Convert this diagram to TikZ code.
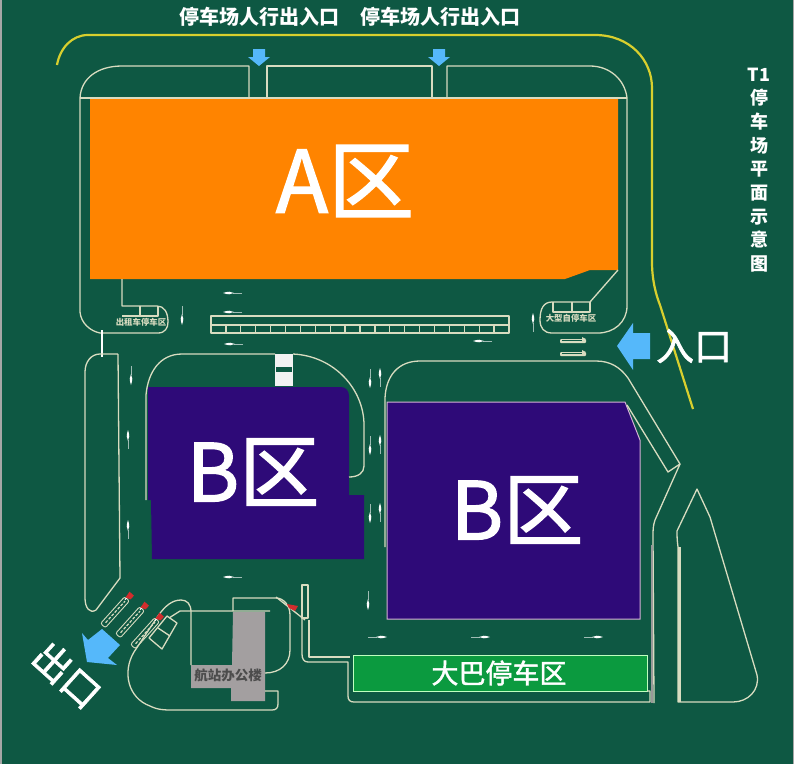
\documentclass[tikz,border=0pt]{standalone}
\usepackage{fontspec}
\setmainfont{Noto Sans CJK SC}
\newfontfamily\zonefont[FakeBold=1.6]{Noto Sans CJK SC}
\usetikzlibrary{arrows.meta,calc}
\definecolor{groundgreen}{HTML}{0E5843}
\definecolor{zoneorange}{HTML}{FF8400}
\definecolor{zonepurple}{HTML}{2E0A78}
\definecolor{busgreen}{HTML}{0B9A3F}
\definecolor{roadgold}{HTML}{D8CF2E}
\definecolor{roadcream}{HTML}{D8DCC0}
\definecolor{signblue}{HTML}{55B8FA}
\definecolor{officegray}{HTML}{A39FA0}
\tikzset{
  roadline/.style={draw=roadcream, line width=1.3pt, line join=round},
  yellowroad/.style={draw=roadgold, line width=2.2pt},
  zonelabel/.style={text=white, inner sep=0pt, font=\zonefont\fontsize{80}{80}\selectfont},
  toplabel/.style={text=white, inner sep=0pt, font=\bfseries\fontsize{20}{22}\selectfont},
  signlabel/.style={text=white, inner sep=0pt, font=\zonefont\fontsize{38}{40}\selectfont},
  spotlabel/.style={text=roadcream, inner sep=0pt, font=\bfseries\fontsize{8.4}{9}\selectfont},
  bluearrow/.style={fill=signblue, draw=none},
  roadarrow/.pic={
    \draw[white!60!groundgreen, line width=0.5pt] (-9,0) -- (0,0);
    \fill[white] (-1,0) .. controls (2,1.7) and (5,1.7) .. (10,0) .. controls (5,-1.7) and (2,-1.7) .. (-1,0);
  },
  parkedbus/.pic={
    \draw[roadcream, line width=0.9pt, rounded corners=2pt] (-21,-3.2) rectangle (15,3.2);
    \draw[roadcream, line width=1.2pt, dash pattern=on 3pt off 1.5pt] (-17,0) -- (12,0);
    \draw[white, line width=1.1pt] (13,-1) -- (19,-1);
    \fill[red!65!gray] (15,-2) -- (22,-3) -- (22,3) -- (17,3) -- cycle;
  },
  lanebar/.pic={
    \fill[roadcream, rounded corners=1pt] (-13,-2) rectangle (13,2);
    \draw[groundgreen, line width=0.5pt] (-11,-0.6) -- (9,-0.6);
    \fill[roadcream] (9,-4) -- (13,-2) -- (9,-2) -- cycle;
  },
}
\begin{document}
\begin{tikzpicture}[x=1pt,y=-1pt]
  \useasboundingbox (0,0) rectangle (794,764);
  \fill[groundgreen] (0,0) rectangle (794,764);
  \fill[gray!70] (0,0) rectangle (1.5,764);
  \fill[gray!70] (792.5,0) rectangle (794,764);

  % outer road
  \draw[yellowroad] (57,65) .. controls (60,48) and (72,35) .. (88,35) -- (595,35)
    .. controls (630,35) and (652,60) .. (652,88) -- (652,262)
    .. controls (652,280) and (656,295) .. (660,305) -- (693,409);

  % zones
  \fill[zoneorange] (90,99) -- (618,99) -- (618,270) -- (590,270) -- (565,279) -- (90,279) -- cycle;
  \fill[zonepurple] (148,387) -- (341,387) .. controls (346,387) and (349,391) .. (349,396)
    -- (349,495) -- (364,495) -- (364,559) -- (152,559) -- (151,500) -- (148,500) -- cycle;
  \draw[draw=black!10!violet!30!white, line width=1pt, fill=zonepurple] (387,402) -- (625,402) -- (640,440) -- (640,619) -- (387,619) -- cycle;
  \draw[draw=green!25!white, line width=1pt, fill=busgreen] (353,655) rectangle (647,691);
  \fill[officegray] (233,612) -- (265,612) -- (265,701) -- (231,701) -- (231,688) -- (191,688) -- (191,665) -- (232,665) -- cycle;

  % upper car park outline
  \draw[roadline] (80,98) .. controls (81,78) and (98,66) .. (122,66) -- (249,66) -- (249,98);
  \draw[roadline] (267,98) -- (267,66) -- (432,66) -- (432,98);
  \draw[roadline] (447,98) -- (447,66) -- (590,66) .. controls (610,66) and (625,80) .. (627,98);
  \draw[roadline] (80,98) -- (627,98);
  \draw[roadline] (80,98) -- (80,312) .. controls (81,323) and (90,331) .. (100,333) -- (158,333)
    .. controls (165,333) and (168,328) .. (168,322) .. controls (168,312) and (164,306) .. (157,306) -- (122,306) -- (122,279);
  \draw[roadline] (122,316) -- (158,316) -- (158,306);
  \draw[roadline] (140,306) -- (140,316);
  \draw[roadline] (627,98) -- (627,306) .. controls (627,322) and (614,333) .. (598,333) -- (552,333)
    .. controls (544,333) and (540,328) .. (540,320) .. controls (540,308) and (544,302) .. (552,302) -- (590,302) -- (618,270);
  \draw[roadline] (553,302) -- (553,312) -- (590,312) -- (590,302);
  \draw[roadline] (572,302) -- (572,312);
  \draw[white, line width=2.5pt] (102,330) -- (102,357);

  % central parking strip
  \draw[roadline] (211,316) rectangle (509,333);
  \draw[roadline] (211,325) -- (509,325);
  \foreach \i in {1,...,19} {
    \draw[roadline] ({211+\i*14.9},325) -- ({211+\i*14.9},333);
  }

  % islands and road edges
  \draw[roadline] (118,354) -- (100,354) .. controls (91,354) and (85,362) .. (85,372) -- (85,598)
    .. controls (85,608) and (90,614) .. (96,610) -- (120,578) -- (118,354);
  \draw[roadline] (146,500) -- (146,395) .. controls (148,372) and (160,354) .. (182,354) -- (275,354);
  \draw[roadline] (293,354) .. controls (335,356) and (364,390) .. (364,425) -- (364,466)
    .. controls (364,473) and (358,477) .. (349,477);
  \fill[white!90!gray] (275,354) rectangle (293,386);
  \fill[groundgreen] (276,367) rectangle (292,372);
  \draw[roadline] (385,547) -- (385,398) .. controls (386,376) and (398,361) .. (420,361) -- (596,361)
    .. controls (610,361) and (620,367) .. (628,378) -- (680,464) -- (668,472) -- (627,405);
  \draw[roadline] (680,464) -- (655,520) .. controls (653,526) and (653,530) .. (653,536) -- (654,703);
  \fill[gray!80] (650.5,545) rectangle (653,703);
  \draw[roadline] (697,489) -- (677,531) .. controls (677,535) and (677,540) .. (678,547) -- (678,702) -- (733,702)
    .. controls (748,702) and (760,690) .. (757,675) -- (710,517) -- cycle;
  \draw[roadcream, line width=3pt] (679,547) -- (679,702);

  % bus lane and office block roads
  \draw[roadline] (302,585) rectangle (308,618);
  \draw[roadline] (309,620) -- (309,657) -- (350,657);
  \draw[roadline] (302,617) -- (302,654) .. controls (302,659) and (304,662) .. (308,662) -- (348,662) -- (348,696)
    .. controls (348,700) and (350,702) .. (354,702) -- (650,702) -- (650,691) -- (647,691);
  \draw[roadline] (233,611) -- (233,598) -- (276,598) .. controls (284,598) and (290,606) .. (290,615) -- (290,650)
    .. controls (290,664) and (280,673) .. (265,673);
  \draw[roadline] (276,597) -- (305,620);
  \fill[red!65!gray] (287,604) -- (298,606) -- (295,611) -- (289,608) -- cycle;
  \draw[roadline] (191,665) -- (191,612) .. controls (191,604) and (187,600) .. (181,600)
    .. controls (172,600) and (165,606) .. (158,616) -- (134,652)
    .. controls (122,672) and (128,698) .. (150,706) .. controls (158,710) and (165,710) .. (172,710) -- (272,710)
    .. controls (276,710) and (278,708) .. (278,704) -- (278,691) -- (265,691);
  \draw[roadline] (169,618) -- (180,611) -- (270,611);
  \draw[roadline] (167,616) -- (177,623) -- (162,649) -- (149,638) -- cycle;
  \draw[roadline] (158,628) -- (170,636);

  % parked buses
  \pic[rotate=48] at (117,610) {parkedbus};
  \pic[rotate=48] at (132,620) {parkedbus};
  \pic[rotate=48] at (147,631) {parkedbus};
  \pic at (573,341) {lanebar};
  \pic at (573,354) {lanebar};

  % driving direction marks
  \foreach \px/\py/\ang in {233/293/180, 233/312/180, 234/344/180, 233/577/180, 483/341/180,
      377/637/0, 480/637/0, 593/637/0,
      182/315/-90, 131/375/-90, 128/440/90, 128/530/90,
      370/378/-90, 380/378/90, 370/445/-90, 380/445/90, 370/513/-90, 380/513/90,
      368/600/-90, 533/323/90} {
    \pic[rotate=\ang] at (\px,\py) {roadarrow};
  }

  % blue signs
  \fill[bluearrow] (253,49) -- (265,49) -- (265,57) -- (270,57) -- (259,66) -- (248,57) -- (253,57) -- cycle;
  \fill[bluearrow] (433,49) -- (445,49) -- (445,57) -- (450,57) -- (439,66) -- (428,57) -- (433,57) -- cycle;
  \fill[bluearrow] (617,346) -- (633,323) -- (633,333) -- (650,333) -- (650,359) -- (633,359) -- (633,370) -- cycle;
  \fill[bluearrow] (87,662) -- (82,633) -- (88,640) -- (102,629) -- (120,645) -- (108,658) -- (117,665) -- cycle;

  % labels
  \node[toplabel] (walkleft) at (259,17) {停车场人行出入口};
  \node[toplabel] (walkright) at (440,17) {停车场人行出入口};
  \node[text=white, inner sep=0pt, align=center, font=\bfseries\fontsize{18}{23.7}\selectfont] (title) at (759,170) {T1\\停\\车\\场\\平\\面\\示\\意\\图};
  \node[zonelabel, font=\zonefont\fontsize{86}{86}\selectfont] (zonea) at (345,181) {A区};
  \node[zonelabel] (zonebleft) at (253,472) {B区};
  \node[zonelabel] (zonebright) at (517,510) {B区};
  \node[signlabel] (entry) at (694,346) {入口};
  \node[signlabel, rotate=-42] (exit) at (67,675) {出口};
  \node[text=white, inner sep=0pt, font=\zonefont\fontsize{27}{30}\selectfont] (buszone) at (499,673) {大巴停车区};
  \node[text=black!70, inner sep=0pt, font=\bfseries\fontsize{13.5}{15}\selectfont] (office) at (228,675) {航站办公楼};
  \node[spotlabel] (spotleft) at (141,322) {出租车停车区};
  \node[spotlabel] (spotright) at (571,318) {大型自停车区};
\end{tikzpicture}
\end{document}
